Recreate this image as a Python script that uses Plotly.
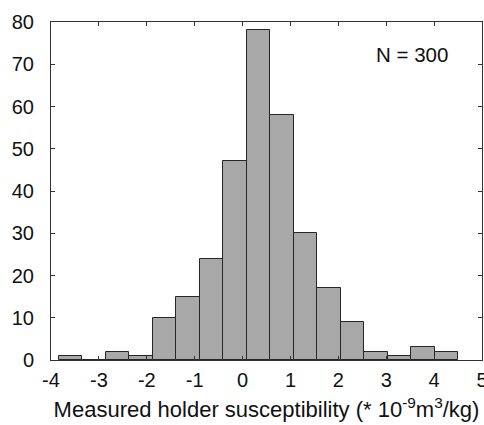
import plotly.graph_objects as go

# Histogram data
bin_centers = [-3.595, -3.104, -2.613, -2.122, -1.631, -1.140, -0.649, -0.158,
               0.333, 0.824, 1.315, 1.806, 2.297, 2.788, 3.279, 3.770, 4.261]
counts = [1, 0, 2, 1, 10, 15, 24, 47, 78, 58, 30, 17, 9, 2, 1, 3, 2]
bin_width = 0.491
x_ticks = [-4, -3, -2, -1, 0, 1, 2, 3, 4, 5]
y_ticks = [0, 10, 20, 30, 40, 50, 60, 70, 80]
annotation_text = "N = 300"
x_title = "Measured holder susceptibility (* 10<sup>-9</sup>m<sup>3</sup>/kg)"

FONT = "Liberation Sans, Arial, sans-serif"

fig = go.Figure()
fig.add_trace(go.Bar(
    x=bin_centers, y=counts, width=[bin_width] * len(counts),
    marker=dict(color="#a8a8a8", line=dict(color="#262626", width=1)),
    showlegend=False,
))

fig.update_layout(
    width=484, height=425,
    margin=dict(l=51, r=2, t=22, b=65, autoexpand=False),
    plot_bgcolor="white", paper_bgcolor="white",
    font=dict(family=FONT, color="#111111"),
    bargap=0,
    xaxis=dict(
        range=[-4, 5], tickvals=x_ticks, ticktext=[str(v) for v in x_ticks],
        ticks="inside", ticklen=4, tickcolor="#333333", tickwidth=1,
        showline=True, linecolor="#333333", linewidth=1, mirror="ticks",
        showgrid=False, zeroline=False, automargin=False,
        tickfont=dict(size=20, family=FONT, color="#111111"),
        ticklabelstandoff=2, ticklabeloverflow="allow",
        title=dict(text=x_title, font=dict(size=22, family=FONT, color="#111111"), standoff=11),
    ),
    yaxis=dict(
        range=[0, 80], tickvals=y_ticks,
        ticks="inside", ticklen=4, tickcolor="#333333", tickwidth=1,
        showline=True, linecolor="#333333", linewidth=1, mirror="ticks",
        showgrid=False, zeroline=False, automargin=False,
        tickfont=dict(size=20, family=FONT, color="#111111"),
        ticklabelstandoff=12,
    ),
    annotations=[dict(
        text=annotation_text, x=4.34, y=72.3, xref="x", yref="y",
        showarrow=False, xanchor="right", yanchor="middle",
        font=dict(size=20.5, family=FONT, color="#111111"),
    )],
)

fig.write_html("out.html")
